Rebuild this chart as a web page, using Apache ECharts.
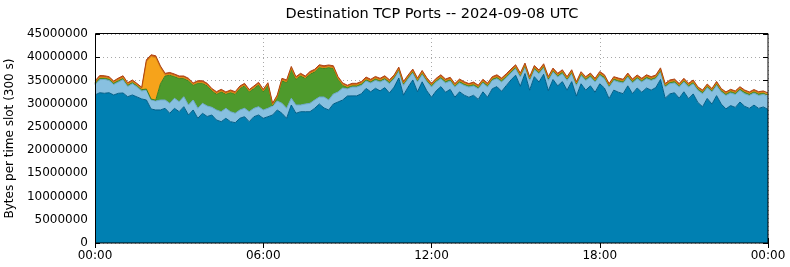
<!DOCTYPE html>
<html><head><meta charset="utf-8">
<script src="https://cdn.jsdelivr.net/npm/echarts@6/dist/echarts.min.js"></script>
<style>html,body{margin:0;padding:0;background:#fff}#c{width:790px;height:267px}</style>
</head><body><div id="c"></div>
<script>
// Time axis tick labels (every 6 hours)
const xTickLabels = ['00:00', '06:00', '12:00', '18:00', '00:00'];
const chartTitle = 'Destination TCP Ports -- 2024-09-08 UTC';
const yAxisName = 'Bytes per time slot (300 s)';

// slot times (10-minute sampling of the day) as category labels
const slotTimes = [];
for (let i = 0; i <= 144; i++) {
  const m = i * 10;
  slotTimes.push(String(Math.floor(m / 60) % 24).padStart(2, '0') + ':' + String(m % 60).padStart(2, '0'));
}

// layer values in millions of bytes per slot (bottom -> top)
const darkBlue = [
31.87,32.36,32.23,32.36,31.87,32.23,32.30,31.50,31.87,31.44,
31.01,30.79,28.85,28.64,28.64,29.00,27.93,29.00,28.27,29.35,
27.56,28.64,26.85,27.93,27.24,27.56,26.48,26.12,26.85,26.12,
25.90,26.85,27.19,26.12,27.19,27.56,26.85,27.19,27.56,28.64,
27.93,26.85,29.71,27.93,28.27,28.27,28.27,29.00,29.93,29.07,
28.64,29.93,30.36,30.79,31.65,
31.68,31.68,32.13,33.28,32.55,33.31,32.76,33.46,32.30,33.57,
35.53,31.83,33.57,35.10,32.56,34.70,32.77,31.38,32.76,33.67,
32.45,33.08,31.38,32.55,31.83,31.38,31.80,30.92,32.55,31.38,
33.21,33.67,32.66,33.89,35.10,36.13,33.74,36.49,32.91,35.81,
34.65,36.34,32.81,35.21,33.84,34.75,32.91,34.75,31.63,34.28,
32.91,33.84,32.46,34.28,33.37,31.08,32.91,32.46,32.15,33.84,
32.15,33.37,32.46,33.37,32.91,33.47,35.21,31.18,32.10,32.35,
31.18,32.56,31.08,32.10,30.25,29.34,31.13,29.91,31.73,29.91,
28.88,29.59,29.19,30.35,29.44,28.98,29.69,28.98,29.29,28.76];

const lightBlue = [
2.21,2.80,2.99,2.65,2.27,2.43,2.86,2.21,2.43,2.14,
1.71,2.15,1.94,1.93,2.15,1.79,2.15,2.16,2.15,2.15,
2.15,2.15,2.15,2.15,2.26,1.66,2.16,2.15,2.15,2.15,
2.03,1.79,1.81,2.15,1.81,1.79,1.79,1.81,1.93,1.93,
2.15,2.15,1.45,1.78,1.44,1.66,1.81,1.79,1.51,2.37,
2.15,2.15,2.15,2.57,1.52,
1.9,1.9,1.8,1.6,1.9,1.7,1.9,1.7,2.0,1.8,
1.5,2.1,1.8,1.5,2.1,1.6,2.0,2.2,1.9,1.7,
2.0,1.8,2.2,1.9,2.1,2.2,2.0,2.3,1.9,2.2,
1.8,1.7,2.0,1.7,1.5,1.4,2.0,1.4,2.1,1.5,
1.8,1.4,2.2,1.6,1.9,1.7,2.1,1.7,2.3,1.8,
2.1,1.9,2.2,1.8,2.0,2.5,2.1,2.2,2.3,1.9,
2.3,2.0,2.2,2.0,2.1,1.9,1.6,2.4,2.2,2.1,
2.4,2.1,2.5,2.2,2.6,2.8,2.3,2.6,2.2,2.6,
2.9,2.7,2.8,2.5,2.7,2.8,2.6,2.8,2.7,2.8];

const green = [
0.30,0.35,0.30,0.30,0.30,0.35,0.30,0.30,0.30,0.30,
0.30,0.20,0.20,0.20,3.47,5.19,6.04,4.68,4.99,3.91,
5.20,3.17,5.39,4.31,4.33,3.54,3.39,4.27,3.03,4.12,
4.10,4.61,4.83,4.27,4.25,4.70,3.90,4.96,0.10,0.75,
4.83,5.55,6.25,5.55,6.28,5.48,6.25,6.06,6.34,6.12,
6.99,5.48,2.75,0.60,0.35,
0.30,0.30,0.35,0.30,0.30,0.35,0.30,0.30,0.35,0.30,
0.30,0.35,0.30,0.30,0.35,0.30,0.30,0.35,0.30,0.30,
0.35,0.30,0.30,0.35,0.30,0.30,0.35,0.30,0.30,0.35,
0.30,0.30,0.35,0.30,0.30,0.30,0.35,0.30,0.30,0.35,
0.30,0.30,0.35,0.30,0.30,0.35,0.30,0.30,0.35,0.30,
0.30,0.35,0.30,0.30,0.35,0.30,0.30,0.35,0.30,0.30,
0.35,0.30,0.30,0.35,0.30,0.30,0.35,0.30,0.30,0.35,
0.30,0.30,0.35,0.30,0.30,0.35,0.30,0.30,0.35,0.30,
0.30,0.35,0.30,0.30,0.35,0.30,0.30,0.35,0.30,0.30];

const orange = [
0.15,0.15,0.15,0.15,0.15,0.15,0.15,0.15,0.15,0.15,
0.15,5.91,9.14,9.14,3.50,0.20,0.20,0.20,0.20,0.20,
0.20,0.20,0.20,0.20,0.20,0.20,0.20,0.20,0.20,0.20,
0.20,0.20,0.20,0.20,0.20,0.20,0.20,0.20,0.20,0.20,
0.20,0.20,0.20,0.20,0.20,0.20,0.20,0.20,0.20,0.20,
0.20,0.20,0.20,0.15,0.15,
0.15,0.15,0.15,0.15,0.15,0.15,0.15,0.15,0.15,0.15,
0.15,0.15,0.15,0.15,0.15,0.15,0.15,0.15,0.15,0.15,
0.15,0.15,0.15,0.15,0.15,0.15,0.15,0.15,0.15,0.15,
0.15,0.15,0.15,0.15,0.15,0.15,0.15,0.15,0.15,0.15,
0.15,0.15,0.15,0.15,0.15,0.15,0.15,0.15,0.15,0.15,
0.15,0.15,0.15,0.15,0.15,0.15,0.15,0.15,0.15,0.15,
0.15,0.15,0.15,0.15,0.15,0.15,0.15,0.15,0.15,0.15,
0.15,0.15,0.15,0.15,0.15,0.15,0.15,0.15,0.15,0.15,
0.15,0.15,0.15,0.15,0.15,0.15,0.15,0.15,0.15,0.15];

const red = [
0.35,0.40,0.35,0.35,0.30,0.35,0.40,0.35,0.35,0.30,
0.35,0.40,0.40,0.40,0.35,0.35,0.40,0.35,0.35,0.35,
0.35,0.30,0.35,0.35,0.35,0.30,0.35,0.35,0.30,0.35,
0.35,0.35,0.35,0.30,0.35,0.35,0.35,0.35,0.30,0.35,
0.35,0.35,0.40,0.35,0.35,0.35,0.40,0.35,0.40,0.40,
0.35,0.40,0.35,0.35,0.30,0.35,0.35,0.35,0.40,0.35,
0.35,0.35,0.40,0.35,0.35,0.40,0.35,0.35,0.40,0.35,
0.40,0.35,0.30,0.35,0.40,0.35,0.35,0.30,0.35,0.35,
0.30,0.35,0.30,0.35,0.35,0.35,0.40,0.35,0.40,0.40,
0.40,0.35,0.40,0.35,0.40,0.35,0.40,0.35,0.40,0.35,
0.35,0.35,0.40,0.30,0.35,0.35,0.35,0.35,0.40,0.35,
0.30,0.35,0.35,0.35,0.40,0.35,0.35,0.35,0.35,0.35,
0.35,0.40,0.30,0.35,0.35,0.30,0.35,0.30,0.35,0.30,
0.30,0.35,0.30,0.35,0.30,0.30,0.30,0.30,0.35,0.30,
0.30,0.30,0.30,0.30,0.30];

const layers = [
  {name: 'layer1', values: darkBlue,  fill: '#0080B2', line: '#005E88'},
  {name: 'layer2', values: lightBlue, fill: '#88C0E0', line: '#6BA7CB'},
  {name: 'layer3', values: green,     fill: '#4E9A2C', line: '#3B7F1E'},
  {name: 'layer4', values: orange,    fill: '#F6A31B', line: '#D9880C'},
  {name: 'layer5', values: red,       fill: '#C9581E', line: '#B04412'}
];

const FONT = 'DejaVu Sans';
const chart = echarts.init(document.getElementById('c'), null, {renderer: 'canvas'});
const everySixHours = idx => idx % 36 === 0;
const gridLine = {show: true, interval: everySixHours, lineStyle: {color: '#a8a8a8', type: [1, 3], width: 1}};

chart.setOption({
  animation: false,
  backgroundColor: '#ffffff',
  title: {
    text: chartTitle, left: 427, top: 2, textAlign: 'center',
    textStyle: {fontFamily: FONT, fontSize: 14.5, fontWeight: 'normal', color: '#000'}
  },
  grid: {left: 95, right: 22, top: 34, bottom: 24, containLabel: false, outerBoundsMode: 'none'},
  xAxis: [{
    type: 'category', data: slotTimes, boundaryGap: false, position: 'bottom',
    axisLine: {show: false},
    axisTick: {show: true, inside: true, length: 5, interval: everySixHours, lineStyle: {color: '#000'}},
    axisLabel: {fontFamily: FONT, fontSize: 12, color: '#000', margin: 7, interval: everySixHours,
      formatter: (v, idx) => xTickLabels[Math.round(idx / 36)]},
    splitLine: gridLine
  }, {
    type: 'category', data: slotTimes, boundaryGap: false, position: 'top',
    axisLine: {show: false},
    axisTick: {show: true, inside: true, length: 5, interval: everySixHours, lineStyle: {color: '#000'}},
    axisLabel: {show: false}, splitLine: {show: false}
  }],
  yAxis: [{
    type: 'value', min: 0, max: 45000000, interval: 5000000, position: 'left',
    name: yAxisName, nameLocation: 'middle', nameGap: 76, nameRotate: 90,
    nameTextStyle: {fontFamily: FONT, fontSize: 12, color: '#000'},
    axisLine: {show: false},
    axisTick: {show: true, inside: true, length: 5, lineStyle: {color: '#000'}},
    axisLabel: {fontFamily: FONT, fontSize: 12, color: '#000', margin: 7,
      formatter: v => String(v)},
    splitLine: {show: true, lineStyle: {color: '#a8a8a8', type: [1, 3], width: 1}}
  }, {
    type: 'value', min: 0, max: 45000000, interval: 5000000, position: 'right',
    axisLine: {show: false},
    axisTick: {show: true, inside: true, length: 5, lineStyle: {color: '#000'}},
    axisLabel: {show: false}, splitLine: {show: false}
  }],
  graphic: [{
    type: 'rect', z: 100, silent: true,
    shape: {x: 95.5, y: 33.5, width: 672.5, height: 209.5},
    style: {fill: 'none', stroke: '#000', lineWidth: 1}
  }],
  series: layers.map(l => ({
    name: l.name, type: 'line', stack: 'total', symbol: 'none',
    xAxisIndex: 0, yAxisIndex: 0,
    data: l.values.map(v => v * 1e6),
    lineStyle: {color: l.line, width: 1},
    areaStyle: {color: l.fill, opacity: 1},
    itemStyle: {color: l.fill}
  }))
});
</script></body></html>
